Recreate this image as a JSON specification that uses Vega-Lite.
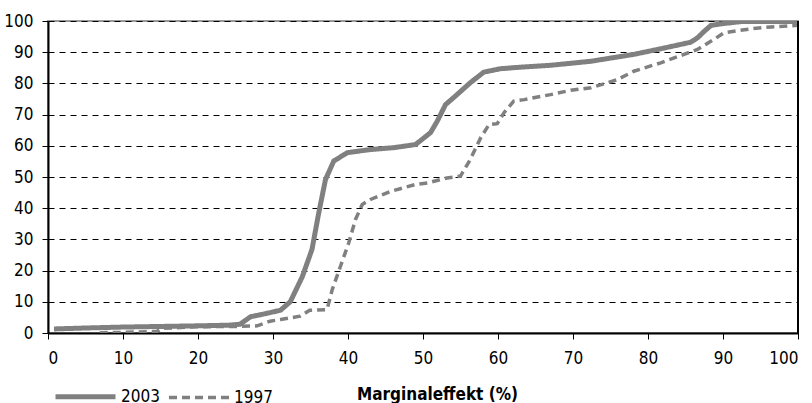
{
  "$schema": "https://vega.github.io/schema/vega-lite/v6.json",
  "autosize": "none",
  "width": 750,
  "height": 312,
  "padding": {"left": 48, "top": 21, "right": 14, "bottom": 70},
  "background": "white",
  "config": {
    "view": {"stroke": "#999999", "strokeWidth": 2},
    "font": "DejaVu Sans Condensed, Liberation Sans Narrow, Roboto, sans-serif"
  },
  "data": {
    "values": [
      {"series": "1997", "x": 6.9, "y": 0.1},
      {"series": "1997", "x": 10, "y": 0.2},
      {"series": "1997", "x": 14.5, "y": 0.5},
      {"series": "1997", "x": 15.4, "y": 1.5},
      {"series": "1997", "x": 20, "y": 2.0},
      {"series": "1997", "x": 25, "y": 2.1},
      {"series": "1997", "x": 27.9, "y": 2.3},
      {"series": "1997", "x": 29.6, "y": 3.8},
      {"series": "1997", "x": 31, "y": 4.3},
      {"series": "1997", "x": 33.6, "y": 5.4},
      {"series": "1997", "x": 34.9, "y": 7.3},
      {"series": "1997", "x": 37.2, "y": 7.5},
      {"series": "1997", "x": 37.9, "y": 13.9},
      {"series": "1997", "x": 39, "y": 21.4},
      {"series": "1997", "x": 40.1, "y": 28.9},
      {"series": "1997", "x": 41, "y": 36.4},
      {"series": "1997", "x": 41.9, "y": 41.2},
      {"series": "1997", "x": 43, "y": 42.8},
      {"series": "1997", "x": 45.7, "y": 45.4},
      {"series": "1997", "x": 49, "y": 47.6},
      {"series": "1997", "x": 50.6, "y": 48.1},
      {"series": "1997", "x": 53.2, "y": 49.7},
      {"series": "1997", "x": 55, "y": 50.3},
      {"series": "1997", "x": 56.3, "y": 55.6},
      {"series": "1997", "x": 57.7, "y": 62.6},
      {"series": "1997", "x": 58.8, "y": 66.8},
      {"series": "1997", "x": 59.9, "y": 67.1},
      {"series": "1997", "x": 60.8, "y": 70.6},
      {"series": "1997", "x": 62.1, "y": 74.3},
      {"series": "1997", "x": 63.5, "y": 74.8},
      {"series": "1997", "x": 67, "y": 76.4},
      {"series": "1997", "x": 69.7, "y": 77.8},
      {"series": "1997", "x": 72.4, "y": 78.6},
      {"series": "1997", "x": 75.9, "y": 81.2},
      {"series": "1997", "x": 78.1, "y": 83.9},
      {"series": "1997", "x": 81.7, "y": 86.6},
      {"series": "1997", "x": 84.8, "y": 89.3},
      {"series": "1997", "x": 86.6, "y": 90.9},
      {"series": "1997", "x": 88.8, "y": 94.1},
      {"series": "1997", "x": 90.1, "y": 96.2},
      {"series": "1997", "x": 93.7, "y": 97.5},
      {"series": "1997", "x": 96.4, "y": 98.1},
      {"series": "1997", "x": 100, "y": 98.6},
      {"series": "2003", "x": 0.8, "y": 1.3},
      {"series": "2003", "x": 5, "y": 1.6},
      {"series": "2003", "x": 10, "y": 1.9},
      {"series": "2003", "x": 15, "y": 2.1},
      {"series": "2003", "x": 20, "y": 2.3},
      {"series": "2003", "x": 24, "y": 2.5},
      {"series": "2003", "x": 25.6, "y": 2.8},
      {"series": "2003", "x": 27, "y": 5.2},
      {"series": "2003", "x": 29, "y": 6.2},
      {"series": "2003", "x": 31, "y": 7.3},
      {"series": "2003", "x": 32.3, "y": 10},
      {"series": "2003", "x": 33.9, "y": 18},
      {"series": "2003", "x": 35.2, "y": 26.8},
      {"series": "2003", "x": 36.1, "y": 38.5},
      {"series": "2003", "x": 37, "y": 49.2},
      {"series": "2003", "x": 38.1, "y": 55.1},
      {"series": "2003", "x": 39.9, "y": 57.8},
      {"series": "2003", "x": 43, "y": 58.8},
      {"series": "2003", "x": 46.1, "y": 59.4},
      {"series": "2003", "x": 49, "y": 60.4},
      {"series": "2003", "x": 51, "y": 64.2},
      {"series": "2003", "x": 51.9, "y": 67.9},
      {"series": "2003", "x": 53, "y": 73.2},
      {"series": "2003", "x": 54.3, "y": 75.9},
      {"series": "2003", "x": 56.3, "y": 80.2},
      {"series": "2003", "x": 58.1, "y": 83.6},
      {"series": "2003", "x": 60.3, "y": 84.7},
      {"series": "2003", "x": 63, "y": 85.2},
      {"series": "2003", "x": 67, "y": 85.8},
      {"series": "2003", "x": 72.4, "y": 87.1},
      {"series": "2003", "x": 78.1, "y": 89.3},
      {"series": "2003", "x": 81.7, "y": 91.1},
      {"series": "2003", "x": 85.7, "y": 93.2},
      {"series": "2003", "x": 86.6, "y": 94.6},
      {"series": "2003", "x": 87.5, "y": 96.7},
      {"series": "2003", "x": 88.4, "y": 98.6},
      {"series": "2003", "x": 90.1, "y": 99.2},
      {"series": "2003", "x": 92.4, "y": 99.8},
      {"series": "2003", "x": 100, "y": 99.8}
    ]
  },
  "layer": [
    {
      "mark": {"type": "line", "color": "#808080", "clip": true},
      "encoding": {
        "x": {
          "field": "x", "type": "quantitative",
          "scale": {"domain": [0, 100], "nice": false},
          "axis": {
            "values": [0, 10, 20, 30, 40, 50, 60, 70, 80, 90, 100],
            "title": "Marginaleffekt (%)",
            "titleFontSize": 17,
            "titleFontWeight": "bold",
            "titleColor": "black",
            "titleX": 389,
            "titleY": 66,
            "titleAnchor": null,
            "titleAlign": "center",
            "titleBaseline": "alphabetic",
            "domainColor": "black",
            "domainWidth": 2,
            "tickColor": "black",
            "tickSize": 6,
            "tickWidth": 1,
            "labelFontSize": 17,
            "labelColor": "black",
            "labelPadding": 11,
            "grid": false
          }
        },
        "y": {
          "field": "y", "type": "quantitative",
          "scale": {"domain": [0, 100], "nice": false},
          "axis": {
            "values": [0, 10, 20, 30, 40, 50, 60, 70, 80, 90, 100],
            "title": null,
            "domainColor": "black",
            "domainWidth": 2,
            "tickColor": "black",
            "tickSize": 6,
            "tickWidth": 1,
            "labelFontSize": 17,
            "labelColor": "black",
            "labelPadding": 9,
            "grid": true,
            "gridColor": "black",
            "gridDash": [6, 5],
            "gridWidth": 1
          }
        },
        "detail": {"field": "series"},
        "order": {"field": "x", "type": "quantitative"},
        "strokeDash": {
          "field": "series", "type": "nominal",
          "scale": {"domain": ["2003", "1997"], "range": [[1, 0], [8, 5]]},
          "legend": {
            "title": null,
            "orient": "none",
            "legendX": 5,
            "legendY": 343,
            "direction": "horizontal",
            "symbolType": "stroke",
            "symbolSize": 3600,
            "symbolStrokeColor": "#808080",
            "symbolStrokeWidth": 5,
            "labelFontSize": 17,
            "labelColor": "black",
            "labelOffset": 3,
            "columnPadding": 2
          }
        },
        "strokeWidth": {
          "field": "series", "type": "nominal",
          "scale": {"domain": ["2003", "1997"], "range": [5, 3.5]},
          "legend": null
        }
      }
    },
    {
      "mark": {"type": "rule", "color": "black", "strokeWidth": 1.5},
      "encoding": {"x": {"datum": 100}}
    }
  ]
}
